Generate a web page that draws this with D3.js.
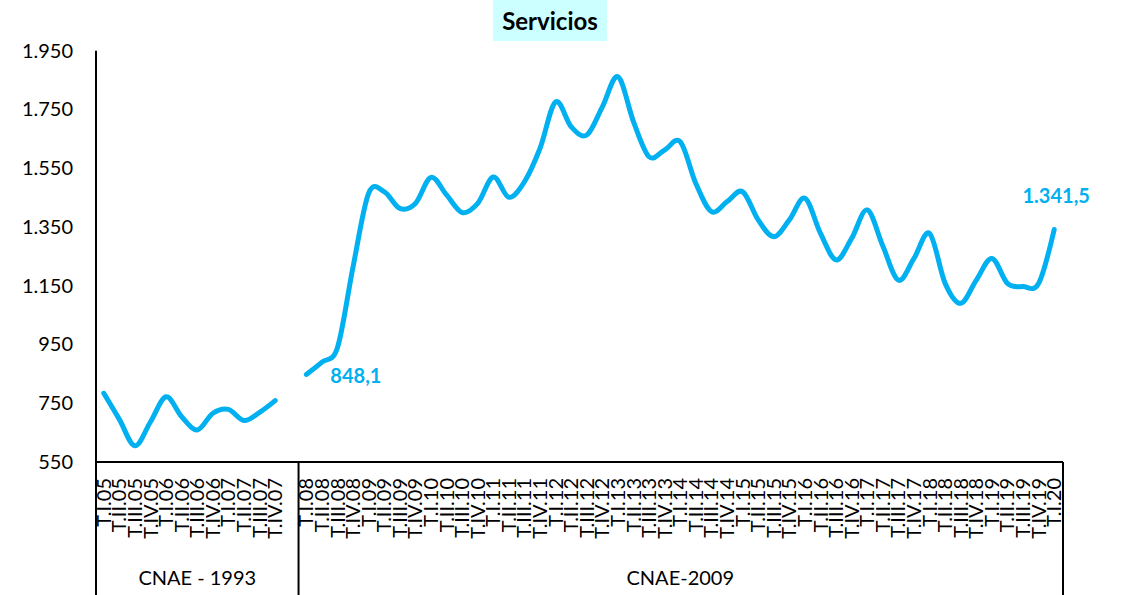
<!DOCTYPE html>
<html>
<head>
<meta charset="utf-8">
<script src="https://cdn.jsdelivr.net/npm/d3@7"></script>
<style>
  html, body { margin: 0; padding: 0; background: #fff; }
  svg { display: block; }
</style>
</head>
<body>
<svg id="chart" width="1126" height="595"></svg>
<script>
const title = "Servicios";
const labelsCnae1993 = ["T.I.05","T.II.05","T.III.05","T.IV.05","T.I.06","T.II.06","T.III.06","T.IV.06","T.I.07","T.II.07","T.III.07","T.IV.07"];
const labelsCnae2009 = ["T.I.08","T.II.08","T.III.08","T.IV.08","T.I.09","T.II.09","T.III.09","T.IV.09","T.I.10","T.II.10","T.III.10","T.IV.10","T.I.11","T.II.11","T.III.11","T.IV.11","T.I.12","T.II.12","T.III.12","T.IV.12","T.I.13","T.II.13","T.III.13","T.IV.13","T.I.14","T.II.14","T.III.14","T.IV.14","T.I.15","T.II.15","T.III.15","T.IV.15","T.I.16","T.II.16","T.III.16","T.IV.16","T.I.17","T.II.17","T.III.17","T.IV.17","T.I.18","T.II.18","T.III.18","T.IV.18","T.I.19","T.II.19","T.III.19","T.IV.19","T.I.20"];
const valuesCnae1993 = [784, 695, 605, 687, 772, 704, 659, 716, 729, 691, 719, 759];
const valuesCnae2009 = [848.1, 890, 940, 1215, 1465, 1470, 1413, 1430, 1519, 1459, 1399, 1430, 1520, 1451, 1504, 1618, 1776, 1691, 1663, 1759, 1861, 1708, 1589, 1612, 1640, 1498, 1402, 1436, 1470, 1374, 1317, 1374, 1448, 1328, 1238, 1311, 1408, 1285, 1169, 1243, 1328, 1158, 1090, 1169, 1243, 1158, 1147, 1158, 1341.5];
const groupNames = ["CNAE - 1993", "CNAE-2009"];
const yTicks = [550, 750, 950, 1150, 1350, 1550, 1750, 1950];

(function () {
const svg = d3.select("#chart");
const pLeft = 96, pRight = 1062, pTop = 50.7, pBottom = 462;
const lineColor = "#00B0F0";
const font = "Lato, 'Open Sans', sans-serif";

const gapKey = "__gap__";
const domain = [...labelsCnae1993, gapKey, ...labelsCnae2009];
const x = d3.scaleBand().domain(domain).range([pLeft, pRight]).padding(0);
const y = d3.scaleLinear().domain([550, 1950]).range([pBottom, pTop]);
const cx = k => x(k) + x.bandwidth() / 2;

const fmt = v => d3.format(",.0f")(v).replace(/,/g, ".");

// title
svg.append("rect").attr("x", 493).attr("y", 0).attr("width", 114).attr("height", 41).attr("fill", "#ccffff");
svg.append("text").attr("x", 550).attr("y", 30).attr("text-anchor", "middle")
  .attr("font-family", font).attr("font-weight", "bold").attr("font-size", 24).attr("fill", "#000").text(title);

// y axis labels
const yAxis = d3.axisLeft(y).tickValues(yTicks).tickFormat(fmt).tickSize(0).tickPadding(23);
const gy = svg.append("g").attr("transform", `translate(${pLeft},0)`).call(yAxis);
gy.select(".domain").remove();
gy.selectAll("text").attr("font-family", font).attr("font-size", 20).attr("fill", "#000");

// axis lines
const axisG = svg.append("g").attr("stroke", "#000").attr("stroke-width", 2);
axisG.append("line").attr("x1", pLeft).attr("x2", pLeft).attr("y1", pTop).attr("y2", 595);
axisG.append("line").attr("x1", pLeft).attr("x2", pRight + 1).attr("y1", pBottom).attr("y2", pBottom);
const dividerX = x(gapKey) + x.bandwidth();
axisG.append("line").attr("x1", dividerX).attr("x2", dividerX).attr("y1", pBottom).attr("y2", 595);
axisG.append("line").attr("x1", pRight + 1).attr("x2", pRight + 1).attr("y1", pBottom).attr("y2", 595);

// x tick labels
const xAxis = d3.axisBottom(x).tickValues([...labelsCnae1993, ...labelsCnae2009]).tickSize(0);
const gx = svg.append("g").attr("transform", `translate(0,${pBottom})`).call(xAxis);
gx.select(".domain").remove();
gx.selectAll("text")
  .attr("font-family", font).attr("font-size", 20).attr("fill", "#000")
  .attr("text-anchor", "end")
  .attr("y", 0).attr("x", -16).attr("dy", "0.35em")
  .attr("transform", "rotate(-90)");

// group labels
svg.append("text").attr("x", (pLeft + dividerX) / 2).attr("y", 585).attr("text-anchor", "middle")
  .attr("font-family", font).attr("font-size", 20).attr("fill", "#000").text(groupNames[0]);
svg.append("text").attr("x", (dividerX + pRight) / 2).attr("y", 585).attr("text-anchor", "middle")
  .attr("font-family", font).attr("font-size", 20).attr("fill", "#000").text(groupNames[1]);

// lines
const line = d3.line().x(d => cx(d.k)).y(d => y(d.v)).curve(d3.curveCardinal.tension(0));
const s1 = labelsCnae1993.map((k, i) => ({k, v: valuesCnae1993[i]}));
const s2 = labelsCnae2009.map((k, i) => ({k, v: valuesCnae2009[i]}));
[s1, s2].forEach(s => {
  svg.append("path").datum(s).attr("d", line).attr("fill", "none")
    .attr("stroke", lineColor).attr("stroke-width", 5)
    .attr("stroke-linecap", "round").attr("stroke-linejoin", "round");
});

// data labels
const numFmt = v => {
  const parts = v.toFixed(1).split(".");
  return fmt(+parts[0]) + "," + parts[1];
};
const first = s2[0], last = s2[s2.length - 1];
svg.append("text").attr("x", cx(first.k) + 24).attr("y", y(first.v) + 9)
  .attr("font-family", font).attr("font-weight", "bold").attr("font-size", 20).attr("fill", lineColor)
  .text(numFmt(first.v));
svg.append("text").attr("x", cx(last.k) + 2).attr("y", y(last.v) - 26).attr("text-anchor", "middle")
  .attr("font-family", font).attr("font-weight", "bold").attr("font-size", 20).attr("fill", lineColor)
  .text(numFmt(last.v));
})();
</script>
</body>
</html>
